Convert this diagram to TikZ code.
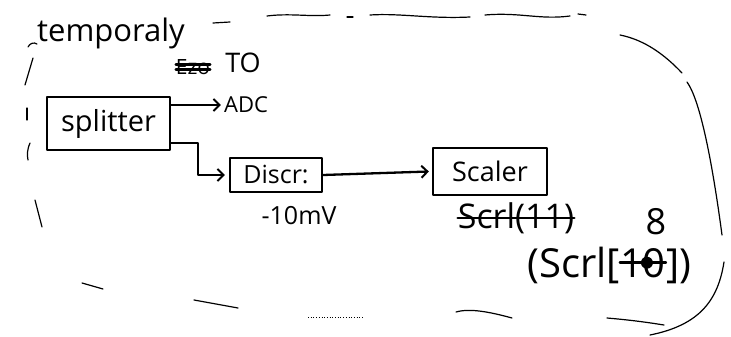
\documentclass[tikz,border=0pt]{standalone}
\usepackage{fontspec}
\setmainfont{Open Sans}
\usetikzlibrary{arrows.meta,calc}
\begin{document}
\begin{tikzpicture}[x=1pt,y=-1pt,
  ink/.style={line width=2.3pt, line cap=round, line join=round},
  loopline/.style={line width=1.2pt, line cap=round},
  hand/.style={inner sep=0pt, font=\fontsize{#1}{#1}\selectfont},
  hand/.default=20,
  boxnode/.style={draw, ink, inner sep=0pt, anchor=center},
  strike/.style={line width=2.4pt, line cap=round},
  arr/.style={ink, -{Straight Barb[length=6pt,width=12pt,line width=2pt]}}
]
\useasboundingbox (0,0) rectangle (731,337);

% blocks
\node[boxnode, hand=29, minimum width=123pt, minimum height=53pt] (splitter) at (108.5,123.5) {splitter};
\node[boxnode, hand=25, minimum width=92pt, minimum height=34pt] (discr) at (276,175) {Discr:};
\node[boxnode, hand=27, minimum width=114pt, minimum height=47pt] (scaler) at (490,171.5) {Scaler};

% labels
\node[hand=31] (title) at (111,33) {temporaly};
\node[hand=21] (ezo) at (193,67) {Ezo};
\node[hand=27] (to) at (243,63) {TO};
\node[hand=22] (adc) at (246,105) {ADC};
\node[hand=25] (thr) at (299,216) {-10mV};
\node[hand=34] (oldname) at (516,218) {Scrl(11)};
\node[hand=36] (eight) at (656,222) {8};
\node[hand=40, anchor=base west] (scrlA) at (527,277) {(Scrl[};
\node[hand=40, anchor=base west] (scrlB) at (scrlA.base east) {10};
\node[hand=40, anchor=base west] (scrlC) at (scrlB.base east) {])};

% crossed-out text
\draw[strike] ($(ezo.west)+(0,-2.5)$) -- ($(ezo.east)+(0,-2.5)$);
\draw[strike] ($(ezo.west)+(0,2.5)$) -- ($(ezo.east)+(0,2.5)$);
\draw[strike] (oldname.west) -- (oldname.east);
\draw[strike] (scrlB.west) -- (scrlB.east);
\fill ($(scrlB.center)+(4,0)$) circle (6pt);

% signal connections
\draw[arr] (splitter.east |- adc.west) -- ($(adc.west)+(-3,0)$);
\draw[arr] ($(splitter.south east)+(0,-8)$) -- ++(27,0) |- ($(discr.west)+(-4,0)$);
\draw[arr] (discr.east) -- ($(scaler.west)+(-3,0)$);

% loose outline around the setup
\draw[loopline] (28,47) .. controls (30,43) and (34,42) .. (37,44);
\draw[loopline] (213,23) -- (230,22);
\draw[loopline] (267,16) .. controls (290,13) and (310,17) .. (330,15);
\draw[loopline] (347,17) -- (353,17);
\draw[loopline] (370,15) .. controls (400,13) and (430,19) .. (470,17);
\draw[loopline] (485,15) .. controls (520,12) and (540,20) .. (570,16);
\draw[loopline] (578,14) -- (586,15);
\draw[loopline] (620,35) .. controls (645,40) and (665,55) .. (682,73);
\draw[loopline] (687,82) .. controls (700,100) and (712,160) .. (722,235);
\draw[loopline] (724,262) .. controls (718,300) and (700,325) .. (650,335);
\draw[loopline] (607,318) .. controls (630,320) and (645,322) .. (664,325);
\draw[loopline] (456,312) .. controls (470,308) and (490,312) .. (512,318);
\draw[line width=0.7pt, dotted] (308,317) -- (364,317);
\draw[loopline] (194,300) -- (238,308);
\draw[loopline] (82,283) -- (103,289);
\draw[loopline] (35,200) -- (42,227);
\draw[loopline] (30,143) .. controls (27,150) and (27,155) .. (28,160);
\draw[loopline] (27,108) -- (27,120);
\draw[loopline] (33,58) -- (25,85);
\end{tikzpicture}
\end{document}
